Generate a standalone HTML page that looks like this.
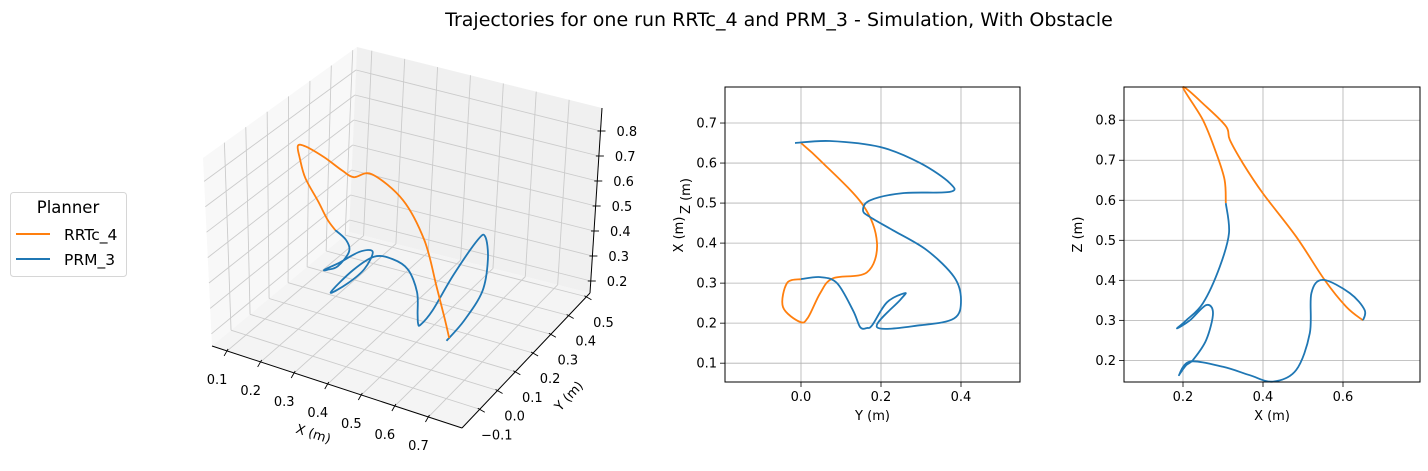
<!DOCTYPE html>
<html><head><meta charset="utf-8"><style>
body{margin:0;background:#fff;}
svg text{font-family:"DejaVu Sans","Liberation Sans",sans-serif;fill:#000;}
</style></head><body>
<svg id="fig" width="1428" height="466" viewBox="0 0 1428 466" xmlns="http://www.w3.org/2000/svg">
<text x="779" y="26" font-size="19" text-anchor="middle">Trajectories for one run RRTc_4 and PRM_3 - Simulation, With Obstacle</text>
<g>
<rect x="10.5" y="192.5" width="116" height="84" rx="3" fill="#fff" stroke="#d6d6d6"/>
<text x="68" y="213" font-size="16.5" text-anchor="middle">Planner</text>
<line x1="16" y1="234" x2="50" y2="234" stroke="#ff7f0e" stroke-width="2"/>
<text x="64" y="240" font-size="15.5">RRTc_4</text>
<line x1="16" y1="259" x2="50" y2="259" stroke="#1f77b4" stroke-width="2"/>
<text x="64" y="265" font-size="15.5">PRM_3</text>
</g>
<g id="p3d"></g>
<g id="pyx"></g>
<g id="pxz"></g>
</svg>
<script>
// ---- data ----
const orange3dX=[0.31,0.304,0.283,0.25,0.22,0.203,0.215,0.258,0.30,0.317,0.33,0.40,0.483,0.554,0.608,0.65];
const orange3dY=[0,-0.03,-0.04,-0.045,-0.02,0,0.018,0.035,0.05,0.08,0.15,0.19,0.16,0.10,0.048,0];
const orange3dZ=[0.59,0.65,0.72,0.80,0.85,0.88,0.87,0.834,0.79,0.75,0.72,0.617,0.509,0.401,0.334,0.30];
const blue3dX=[0.31,0.315,0.30,0.25,0.208,0.188,0.217,0.258,0.275,0.258,0.225,0.19,0.195,0.212,0.258,0.315,0.382,0.432,0.465,0.482,0.507,0.522,0.528,0.55,0.60,0.64,0.655,0.65];
const blue3dY=[0,0.048,0.09,0.12,0.14,0.16,0.19,0.22,0.26,0.248,0.22,0.19,0.30,0.383,0.40,0.383,0.315,0.23,0.173,0.155,0.173,0.255,0.372,0.372,0.298,0.198,0.072,-0.015];
const blue3dZ=[0.59,0.52,0.44,0.343,0.30,0.28,0.30,0.338,0.318,0.251,0.201,0.17,0.19,0.195,0.19,0.18,0.16,0.148,0.162,0.176,0.23,0.32,0.38,0.40,0.38,0.34,0.32,0.30];

const orangeYX_Y=[0,0.0475,0.155,0.19,0.165,0.08,0.048,0.018,-0.002,-0.045,-0.035,0];
const orangeYX_X=[0.65,0.607,0.495,0.40,0.327,0.312,0.275,0.215,0.203,0.24,0.30,0.31];
const blueYX_Y=[0,0.048,0.09,0.13,0.148,0.165,0.178,0.215,0.26,0.248,0.19,0.30,0.383,0.40,0.383,0.315,0.23,0.173,0.155,0.173,0.255,0.372,0.372,0.298,0.198,0.072,-0.015];
const blueYX_X=[0.31,0.315,0.30,0.232,0.19,0.188,0.195,0.252,0.275,0.258,0.19,0.195,0.212,0.258,0.315,0.382,0.432,0.465,0.482,0.507,0.525,0.528,0.55,0.60,0.64,0.655,0.65];

const orangeXZ_X=[0.307,0.304,0.283,0.25,0.2,0.258,0.308,0.317,0.35,0.40,0.483,0.554,0.608,0.65];
const orangeXZ_Z=[0.593,0.651,0.718,0.80,0.8825,0.834,0.784,0.751,0.692,0.617,0.509,0.401,0.334,0.30];
const blueXZ_X=[0.307,0.315,0.292,0.25,0.208,0.185,0.217,0.258,0.275,0.258,0.225,0.208,0.19,0.217,0.30,0.367,0.425,0.483,0.517,0.521,0.55,0.617,0.654,0.65];
const blueXZ_Z=[0.593,0.518,0.434,0.343,0.30,0.28,0.30,0.338,0.318,0.251,0.201,0.188,0.163,0.197,0.184,0.163,0.147,0.176,0.268,0.368,0.401,0.368,0.326,0.30];

const ticks3dX=[0.1,0.2,0.3,0.4,0.5,0.6,0.7];
const ticks3dY=[-0.1,0.0,0.1,0.2,0.3,0.4,0.5];
const ticks3dZ=[0.2,0.3,0.4,0.5,0.6,0.7,0.8];
const ticksYX_h=[0.0,0.2,0.4];
const ticksYX_v=[0.1,0.2,0.3,0.4,0.5,0.6,0.7];
const ticksXZ_h=[0.2,0.4,0.6];
const ticksXZ_v=[0.2,0.3,0.4,0.5,0.6,0.7,0.8];

const NS="http://www.w3.org/2000/svg";
function mk(parent,tag,attrs){const e=document.createElementNS(NS,tag);for(const k in attrs)e.setAttribute(k,attrs[k]);parent.appendChild(e);return e;}
function smooth(pts){
  let d="M"+pts[0][0].toFixed(1)+","+pts[0][1].toFixed(1);
  for(let i=0;i<pts.length-1;i++){
    const p0=pts[Math.max(0,i-1)],p1=pts[i],p2=pts[i+1],p3=pts[Math.min(pts.length-1,i+2)];
    const c1=[p1[0]+(p2[0]-p0[0])/6,p1[1]+(p2[1]-p0[1])/6];
    const c2=[p2[0]-(p3[0]-p1[0])/6,p2[1]-(p3[1]-p1[1])/6];
    d+=" C"+c1[0].toFixed(1)+","+c1[1].toFixed(1)+" "+c2[0].toFixed(1)+","+c2[1].toFixed(1)+" "+p2[0].toFixed(1)+","+p2[1].toFixed(1);
  }
  return d;
}

// ---- 2D panels ----
function panel2d(g,box,xlim,ylim,xt,yt,xlab,ylab,series,prefix){
  const sx=v=>box.l+(v-xlim[0])/(xlim[1]-xlim[0])*(box.r-box.l);
  const sy=v=>box.b-(v-ylim[0])/(ylim[1]-ylim[0])*(box.b-box.t);
  xt.forEach(v=>{const x=sx(v);
    const l=mk(g,'line',{x1:x,y1:box.t,x2:x,y2:box.b,stroke:'#b0b0b0','stroke-width':0.8});
    
    
    const t=mk(g,'line',{x1:x,y1:box.b,x2:x,y2:box.b+5,stroke:'#000','stroke-width':0.8});
    
    
    const tx=mk(g,'text',{x:x,y:box.b+19,'font-size':13,'text-anchor':'middle'});tx.textContent=v.toFixed(1);
    
    
  });
  yt.forEach(v=>{const y=sy(v);
    const l=mk(g,'line',{x1:box.l,y1:y,x2:box.r,y2:y,stroke:'#b0b0b0','stroke-width':0.8});
    
    
    const t=mk(g,'line',{x1:box.l-5,y1:y,x2:box.l,y2:y,stroke:'#000','stroke-width':0.8});
    
    
    const tx=mk(g,'text',{x:box.l-8,y:y+4.5,'font-size':13,'text-anchor':'end'});tx.textContent=v.toFixed(1);
    
    
  });
  series.forEach(s=>{
    const pts=s.h.map((v,i)=>[sx(v),sy(s.v[i])]);
    const p=mk(g,'path',{d:smooth(pts),fill:'none',stroke:s.c,'stroke-width':1.8,'stroke-linejoin':'round'});
    
    
  });
  const fr=mk(g,'rect',{x:box.l,y:box.t,width:box.r-box.l,height:box.b-box.t,fill:'none',stroke:'#000','stroke-width':1});
  
  
  const xl=mk(g,'text',{x:(box.l+box.r)/2,y:box.b+38,'font-size':13,'text-anchor':'middle'});xl.textContent=xlab;
  
  
  const cy=(box.t+box.b)/2, lx=box.l-42;
  const yl=mk(g,'text',{x:lx,y:cy,'font-size':13,'text-anchor':'middle',transform:'rotate(-90 '+lx+' '+cy+')'});yl.textContent=ylab;
  
  
}
panel2d(document.getElementById('pyx'),{l:725,r:1020,t:87,b:382},[-0.19,0.5475],[0.053,0.79],ticksYX_h,ticksYX_v,'Y (m)','X (m)',
 [{h:orangeYX_Y,v:orangeYX_X,c:'#ff7f0e',n:'rrtc4'},{h:blueYX_Y,v:blueYX_X,c:'#1f77b4',n:'prm3'}],'yx');
panel2d(document.getElementById('pxz'),{l:1124,r:1420,t:87,b:382},[0.0525,0.7925],[0.146,0.883],ticksXZ_h,ticksXZ_v,'X (m)','Z (m)',
 [{h:orangeXZ_X,v:orangeXZ_Z,c:'#ff7f0e',n:'rrtc4'},{h:blueXZ_X,v:blueXZ_Z,c:'#1f77b4',n:'prm3'}],'xz');

// ---- 3D panel ----
(function(){
  const g=document.getElementById('p3d');
  const X0=0.055,X1=0.80,Y0=-0.20,Y1=0.52,Z0=0.152,Z1=0.892;
  // box corners [a][b][c] (x-frac, y-frac, z-frac)
  const C={'000':[212,346],'100':[462,428],'010':[349,232],'110':[590,293],
           '001':[203,158],'101':[472,243],'011':[357,47],'111':[602,108]};
  function P(x,y,z){const a=(x-X0)/(X1-X0),b=(y-Y0)/(Y1-Y0),c=(z-Z0)/(Z1-Z0);
    const r=[0,0];
    for(const i of [0,1])for(const j of [0,1])for(const k of [0,1]){
      const w=(i?a:1-a)*(j?b:1-b)*(k?c:1-c);const p=C[''+i+j+k];r[0]+=w*p[0];r[1]+=w*p[1];}
    return r;}
  function poly(pts,fill,name){const e=mk(g,'polygon',{points:pts.map(p=>p.join(',')).join(' '),fill:fill,stroke:'none'});
    
    }
  poly([P(X0,Y0,Z0),P(X0,Y1,Z0),P(X0,Y1,Z1),P(X0,Y0,Z1)],'#f8f8f8','pane-left');
  poly([P(X0,Y1,Z0),P(X1,Y1,Z0),P(X1,Y1,Z1),P(X0,Y1,Z1)],'#f0f0f0','pane-back');
  poly([P(X0,Y0,Z0),P(X1,Y0,Z0),P(X1,Y1,Z0),P(X0,Y1,Z0)],'#f4f4f4','pane-floor');
  function ln(a,b,col,w,name){const e=mk(g,'line',{x1:a[0],y1:a[1],x2:b[0],y2:b[1],stroke:col,'stroke-width':w});
    
    }
  const gc='#cbcbcb';
  ticks3dX.forEach(v=>{ln(P(v,Y0,Z0),P(v,Y1,Z0),gc,0.9,'grid-floor-x');ln(P(v,Y1,Z0),P(v,Y1,Z1),gc,0.9,'grid-back-x');});
  ticks3dY.forEach(v=>{ln(P(X0,v,Z0),P(X1,v,Z0),gc,0.9,'grid-floor-y');ln(P(X0,v,Z0),P(X0,v,Z1),gc,0.9,'grid-left-y');});
  ticks3dZ.forEach(v=>{ln(P(X0,Y0,v),P(X0,Y1,v),gc,0.9,'grid-left-z');ln(P(X0,Y1,v),P(X1,Y1,v),gc,0.9,'grid-back-z');});
  ln(P(X0,Y0,Z0),P(X1,Y0,Z0),'#000',1,'x-axis-line');
  ln(P(X1,Y0,Z0),P(X1,Y1,Z0),'#000',1,'y-axis-line');
  ln(P(X1,Y1,Z0),P(X1,Y1,Z1),'#000',1,'z-axis-line');
  function lab(p,txt,name,anchor){const t=mk(g,'text',{x:p[0],y:p[1],'font-size':13,'text-anchor':anchor||'middle'});t.textContent=txt;
    
    }
  ticks3dX.forEach(v=>{const p=P(v,Y0,Z0);ln([p[0]+1,p[1]-2],[p[0]-3,p[1]+5],'#000',0.9,'x-tick');lab([p[0]-10,p[1]+33],v.toFixed(1),'x-tick-label');});
  ticks3dY.forEach(v=>{const p=P(X1,v,Z0);ln([p[0]-2,p[1]-1],[p[0]+5,p[1]+3],'#000',0.9,'y-tick');lab([p[0]+17,p[1]+30],v.toFixed(1).replace('-','\u2212'),'y-tick-label');});
  ticks3dZ.forEach(v=>{const p=P(X1,Y1,v);ln([p[0]-3,p[1]],[p[0]+5,p[1]],'#000',0.9,'z-tick');lab([p[0]+16,p[1]+5],v.toFixed(1),'z-tick-label','start');});
  const t1=mk(g,'text',{x:312,y:438,'font-size':13,'text-anchor':'middle',transform:'rotate(18 312 438)'});t1.textContent='X (m)';
  
  
  const t2=mk(g,'text',{x:572,y:399,'font-size':13,'text-anchor':'middle',transform:'rotate(-47 572 399)'});t2.textContent='Y (m)';
  
  
  const t3=mk(g,'text',{x:690,y:196,'font-size':13,'text-anchor':'middle',transform:'rotate(-90 690 196)'});t3.textContent='Z (m)';
  
  
  const b=mk(g,'path',{d:smooth(blue3dX.map((v,i)=>P(v,blue3dY[i],blue3dZ[i]))),fill:'none',stroke:'#1f77b4','stroke-width':1.8});
  
  
  const o=mk(g,'path',{d:smooth(orange3dX.map((v,i)=>P(v,orange3dY[i],orange3dZ[i]))),fill:'none',stroke:'#ff7f0e','stroke-width':1.8});
  
  
})();
</script>
</body></html>
